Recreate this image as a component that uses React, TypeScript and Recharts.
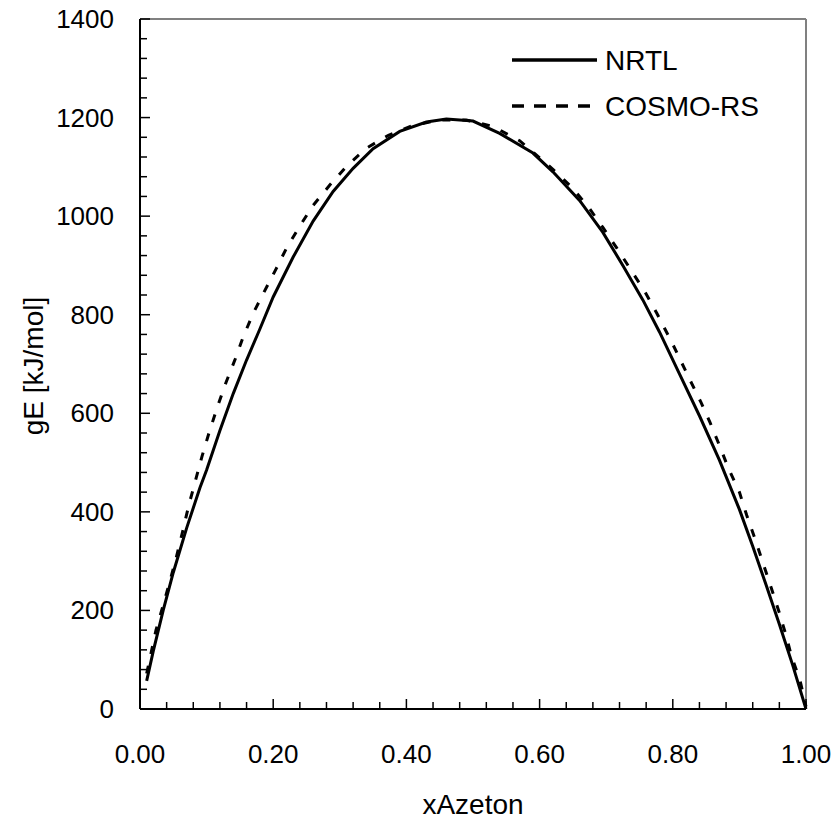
import { LineChart, Line, XAxis, YAxis, ReferenceLine } from 'recharts';

const nrtlX = [0.01, 0.02, 0.035, 0.05, 0.07, 0.09, 0.1, 0.12, 0.14, 0.16, 0.18, 0.2, 0.23, 0.26, 0.29, 0.32, 0.35, 0.39, 0.43, 0.46, 0.5, 0.54, 0.59, 0.62, 0.66, 0.695, 0.725, 0.755, 0.78, 0.81, 0.84, 0.87, 0.9, 0.92, 0.94, 0.96, 0.98, 1.0];
const nrtlY = [57, 118, 201, 277, 367, 449, 485, 565, 640, 708, 771, 836, 917, 990, 1050, 1097, 1137, 1172, 1191, 1197, 1193, 1168, 1128, 1090, 1032, 967, 900, 830, 765, 680, 595, 505, 405, 330, 252, 172, 89, 0];

const cosmoX = [0.01, 0.024, 0.034, 0.044, 0.054, 0.064, 0.073, 0.083, 0.093, 0.104, 0.116, 0.129, 0.143, 0.155, 0.17, 0.187, 0.204, 0.22, 0.24, 0.26, 0.285, 0.31, 0.34, 0.373, 0.41, 0.45, 0.49, 0.53, 0.57, 0.62, 0.648, 0.673, 0.695, 0.716, 0.738, 0.758, 0.776, 0.8, 0.826, 0.842, 0.856, 0.87, 0.883, 0.9, 0.911, 0.924, 0.936, 0.948, 0.96, 0.971, 0.978, 0.991, 1.0];
const cosmoY = [72, 160, 207, 255, 305, 360, 412, 462, 512, 562, 612, 662, 710, 755, 803, 848, 892, 935, 980, 1022, 1063, 1101, 1138, 1164, 1184, 1195, 1195, 1182, 1153, 1095, 1059, 1019, 977, 935, 889, 847, 803, 740, 667, 623, 581, 535, 490, 440, 393, 343, 294, 245, 195, 145, 108, 58, 5];

const xMajorTicks = [0, 0.2, 0.4, 0.6, 0.8, 1.0];
const xTickLabels = ['0.00', '0.20', '0.40', '0.60', '0.80', '1.00'];
const yMajorTicks = [0, 200, 400, 600, 800, 1000, 1200, 1400];
const seriesNames = ['NRTL', 'COSMO-RS'];

// 5 minor steps per major interval on both axes
const xTicks = xMajorTicks.flatMap((v, i) =>
  i === xMajorTicks.length - 1 ? [v] : [0, 1, 2, 3, 4].map((k) => +(v + k * 0.04).toFixed(2))
);
const yTicks = yMajorTicks.flatMap((v, i) =>
  i === yMajorTicks.length - 1 ? [v] : [0, 1, 2, 3, 4].map((k) => v + k * 40)
);

const nrtlData = nrtlX.map((x, i) => ({ x, y: nrtlY[i] }));
const cosmoData = cosmoX.map((x, i) => ({ x, y: cosmoY[i] }));

const font = 'Liberation Sans, Arial, sans-serif';
const fs = 26;
const titleFs = 28;

function XTick(props: any) {
  const { x, y, payload } = props;
  const idx = xMajorTicks.findIndex((v) => Math.abs(v - payload.value) < 1e-9);
  const major = idx >= 0;
  return (
    <g>
      <line x1={x} x2={x} y1={y} y2={y - (major ? 10 : 7)} stroke="#000" strokeWidth={1.5} />
      {major && (
        <text x={x} y={y + 54} textAnchor="middle" fontFamily={font} fontSize={fs} fill="#000">
          {xTickLabels[idx]}
        </text>
      )}
    </g>
  );
}

function YTick(props: any) {
  const { x, y, payload } = props;
  const major = yMajorTicks.includes(payload.value);
  return (
    <g>
      <line x1={x} x2={x + (major ? 10 : 7)} y1={y} y2={y} stroke="#000" strokeWidth={1.5} />
      {major && (
        <text x={x - 26} y={y + 9} textAnchor="end" fontFamily={font} fontSize={fs} fill="#000">
          {payload.value}
        </text>
      )}
    </g>
  );
}

export default function App() {
  return (
    <div style={{ position: 'absolute', left: 0, top: 0, width: 837, height: 820, background: '#fff' }}>
      <LineChart width={837} height={820} margin={{ top: 19, right: 31, bottom: 0, left: 0 }}>
        <XAxis
          type="number"
          dataKey="x"
          domain={[0, 1]}
          ticks={xTicks}
          interval={0}
          height={111}
          tickSize={0}
          tickMargin={0}
          tickLine={false}
          tick={<XTick />}
          axisLine={{ stroke: '#000', strokeWidth: 2 }}
          label={{
            content: ({ viewBox }: any) => (
              <text x={viewBox.x + viewBox.width / 2} y={viewBox.y + 105} textAnchor="middle" fontFamily={font} fontSize={titleFs} fill="#000">
                xAzeton
              </text>
            ),
          }}
        />
        <YAxis
          type="number"
          dataKey="y"
          domain={[0, 1400]}
          ticks={yTicks}
          interval={0}
          width={140}
          tickSize={0}
          tickMargin={0}
          tickLine={false}
          tick={<YTick />}
          axisLine={{ stroke: '#000', strokeWidth: 2 }}
          label={{
            content: ({ viewBox }: any) => {
              const cx = viewBox.x + 33;
              const cy = viewBox.y + viewBox.height / 2 + 2;
              return (
                <text x={cx} y={cy} transform={`rotate(-90 ${cx} ${cy})`} textAnchor="middle" dominantBaseline="central" fontFamily={font} fontSize={titleFs} fill="#000">
                  gE [kJ/mol]
                </text>
              );
            },
          }}
        />
        <ReferenceLine y={1400} stroke="#808080" strokeWidth={2} />
        <ReferenceLine x={1} stroke="#808080" strokeWidth={2} />
        <Line data={nrtlData} dataKey="y" name={seriesNames[0]} type="linear" stroke="#000" strokeWidth={3} dot={false} isAnimationActive={false} />
        <Line data={cosmoData} dataKey="y" name={seriesNames[1]} type="linear" stroke="#000" strokeWidth={3} strokeDasharray="8 12" dot={false} isAnimationActive={false} />
      </LineChart>
      <svg width={837} height={820} style={{ position: 'absolute', left: 0, top: 0, pointerEvents: 'none' }}>
        <line x1={512} x2={597} y1={60} y2={60} stroke="#000" strokeWidth={3.5} />
        <text x={605} y={70} fontFamily={font} fontSize={titleFs} fill="#000">{seriesNames[0]}</text>
        <line x1={512} x2={598} y1={106} y2={106} stroke="#000" strokeWidth={3.5} strokeDasharray="12 10" />
        <text x={605} y={116} fontFamily={font} fontSize={titleFs} fill="#000">{seriesNames[1]}</text>
      </svg>
    </div>
  );
}
